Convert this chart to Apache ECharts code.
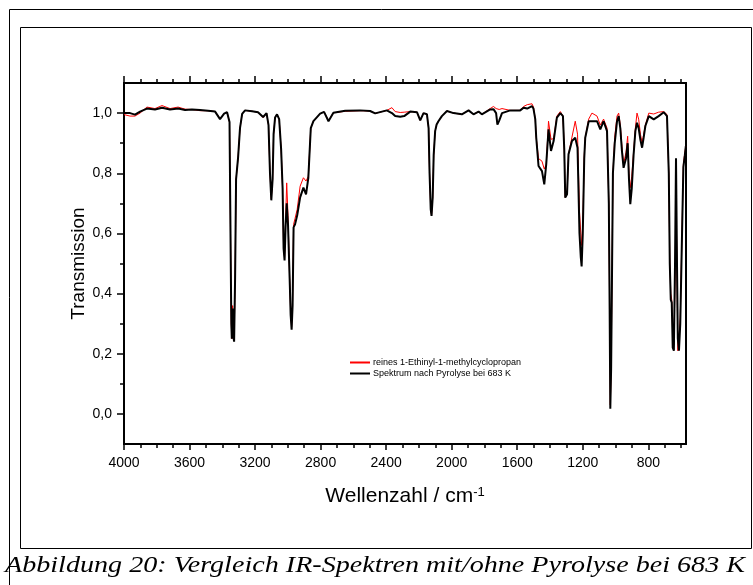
<!DOCTYPE html>
<html>
<head>
<meta charset="utf-8">
<script src="https://cdn.jsdelivr.net/npm/echarts@6/dist/echarts.min.js"></script>
<style>
html,body{margin:0;padding:0;background:#fff;}
#chart{width:753px;height:585px;}
</style>
</head>
<body>
<div id="chart"></div>
<script>
// Wavenumbers (cm^-1)
var wavenumbers = [4000,3963,3933,3902,3860,3811,3768,3719,3670,3627,
3585,3536,3487,3444,3414,3389,3371,3356,3350,3345,
3342,3337,3333,3328,3322,3316,3304,3292,3279,3261,
3218,3182,3151,3130,3118,3109,3101,3093,3087,3078,
3066,3053,3041,3032,3026,3020,3014,3007,2999,2989,
2983,2977,2971,2965,2956,2943,2925,2905,2889,2875,
2860,2844,2803,2779,2752,2722,2650,2559,2498,2467,
2396,2365,2345,2314,2290,2253,2212,2192,2172,2151,
2141,2135,2128,2123,2116,2110,2101,2092,2081,2060,
2029,1989,1938,1897,1867,1836,1816,1765,1745,1729,
1721,1710,1693,1643,1582,1561,1539,1510,1501,1490,
1484,1470,1460,1449,1435,1423,1409,1394,1378,1358,
1337,1321,1313,1307,1296,1287,1266,1246,1232,1220,
1212,1207,1200,1191,1185,1164,1144,1113,1093,1073,
1052,1041,1036,1032,1027,1021,1016,1005,991,981,
971,961,951,936,926,918,910,901,890,879,
869,859,848,838,828,818,797,767,737,706,
686,675,669,663,657,651,644,637,631,625,
620,613,605,596,586,577,571];

// Transmission after pyrolysis at 683 K (black)
var pyrolyseValues = [1.00,1.00,0.995,1.005,1.015,1.012,1.018,1.012,1.015,1.01,
1.012,1.01,1.008,1.005,0.98,0.998,1.003,0.97,0.6,0.3,
0.25,0.35,0.26,0.24,0.45,0.78,0.85,0.95,0.997,1.009,
1.006,1.003,0.987,1.0,0.96,0.8,0.71,0.78,0.93,0.985,
0.996,0.98,0.88,0.75,0.55,0.51,0.62,0.70,0.63,0.45,
0.33,0.28,0.36,0.62,0.63,0.66,0.72,0.752,0.73,0.785,
0.95,0.973,0.998,1.004,0.973,1.001,1.008,1.009,1.007,0.999,
1.009,1.0,0.99,0.988,0.99,1.005,1.003,0.976,1.0,0.996,
0.95,0.8,0.68,0.658,0.72,0.86,0.94,0.962,0.973,0.99,
1.007,1.0,0.996,1.009,0.996,1.005,0.996,1.012,1.013,1.0,
0.962,0.975,1.0,1.009,1.009,1.018,1.015,1.023,1.015,0.98,
0.918,0.824,0.83,0.807,0.763,0.83,0.946,0.874,0.907,0.985,
1.0,0.99,0.88,0.719,0.73,0.863,0.907,0.918,0.885,0.6,
0.52,0.49,0.6,0.85,0.918,0.973,0.973,0.973,0.946,0.973,
0.94,0.7,0.35,0.017,0.15,0.5,0.8,0.9,0.973,0.99,
0.95,0.874,0.818,0.85,0.90,0.78,0.697,0.75,0.86,0.94,
0.968,0.95,0.91,0.885,0.92,0.957,0.99,0.979,0.99,1.003,
0.99,0.8,0.5,0.38,0.37,0.22,0.21,0.5,0.85,0.5,
0.25,0.21,0.3,0.55,0.82,0.86,0.89];

// Transmission of pure 1-ethynyl-1-methylcyclopropane (red)
var reinValues = [0.995,0.99,0.99,1.0,1.02,1.015,1.025,1.015,1.02,1.013,
1.012,1.008,1.008,1.005,0.982,0.998,1.003,0.97,0.6,0.3,
0.25,0.36,0.26,0.245,0.45,0.78,0.85,0.95,0.997,1.009,
1.006,1.003,0.985,1.0,0.96,0.8,0.715,0.78,0.93,0.985,
0.996,0.98,0.88,0.75,0.55,0.52,0.64,0.768,0.66,0.45,
0.34,0.29,0.38,0.63,0.65,0.68,0.757,0.785,0.774,0.79,
0.95,0.973,0.998,1.004,0.975,1.001,1.006,1.008,1.007,0.999,
1.009,1.018,1.005,1.002,1.003,1.005,1.003,0.976,1.0,0.996,
0.95,0.8,0.68,0.66,0.72,0.86,0.94,0.962,0.973,0.99,
1.007,1.0,0.996,1.009,0.996,1.005,0.996,1.015,1.022,1.015,
1.01,1.012,1.015,1.009,1.009,1.022,1.028,1.031,1.02,0.98,
0.918,0.849,0.845,0.84,0.814,0.83,0.973,0.913,0.915,0.99,
1.005,0.99,0.88,0.72,0.73,0.863,0.92,0.973,0.93,0.674,
0.6,0.56,0.63,0.86,0.918,0.98,1.0,0.99,0.96,0.98,
0.95,0.7,0.35,0.03,0.15,0.5,0.8,0.92,0.99,1.0,
0.96,0.89,0.83,0.87,0.923,0.8,0.752,0.79,0.87,0.95,
1.0,0.98,0.93,0.9,0.93,0.96,1.0,0.997,1.003,1.005,
0.995,0.8,0.52,0.4,0.38,0.26,0.23,0.45,0.7,0.5,
0.21,0.25,0.32,0.56,0.83,0.87,0.89];

var seriesNames = ['reines 1-Ethinyl-1-methylcyclopropan', 'Spektrum nach Pyrolyse bei 683 K'];
var xMajorTicks = [4000,3600,3200,2800,2400,2000,1600,1200,800];
var xMinorTicks = [3900,3800,3700,3500,3400,3300,3100,3000,2900,2700,2600,2500,2300,2200,2100,1900,1800,1700,1500,1400,1300,1100,1000,900,700,600];
var yMajorTicks = [0,0.2,0.4,0.6,0.8,1.0];
var yMinorTicks = [0.1,0.3,0.5,0.7,0.9];
var xTitle = 'Wellenzahl / cm';
var xTitleSup = '-1';
var yTitle = 'Transmission';
var caption = 'Abbildung 20: Vergleich IR-Spektren mit/ohne Pyrolyse bei 683 K';

var FONT = '"Liberation Sans", Arial, sans-serif';
var CAPTION_FONT = 'italic 24px "Liberation Serif", "Times New Roman", Times, serif';
var X_MIN = 570, X_MAX = 4000, Y_MIN = -0.1, Y_MAX = 1.1;

// horizontal stretch of the caption so it spans the figure width like the original
var mctx = document.createElement('canvas').getContext('2d');
mctx.font = CAPTION_FONT;
var captionScale = 740 / mctx.measureText(caption).width;

function xAxisDef(pos, ticks, len, labels, extra) {
  var a = {
    type: 'value', position: pos, inverse: true, min: X_MIN, max: X_MAX, gridIndex: 0,
    axisLine: {show: true, onZero: false, lineStyle: {color: '#000', width: 2}},
    axisTick: {show: true, inside: false, length: len, customValues: ticks, lineStyle: {color: '#000', width: 1.5}},
    axisLabel: labels ? {show: true, customValues: ticks, color: '#000', fontSize: 14, fontFamily: FONT, margin: 12,
      formatter: function (v) { return String(v); }} : {show: false},
    splitLine: {show: false}
  };
  if (extra) for (var k in extra) a[k] = extra[k];
  return a;
}
function yAxisDef(pos, ticks, len, labels, extra) {
  var a = {
    type: 'value', position: pos, min: Y_MIN, max: Y_MAX, gridIndex: 0,
    axisLine: {show: true, onZero: false, lineStyle: {color: '#000', width: 2}},
    axisTick: ticks ? {show: true, inside: false, length: len, customValues: ticks, lineStyle: {color: '#000', width: 1.5}} : {show: false},
    axisLabel: labels ? {show: true, customValues: ticks, color: '#000', fontSize: 14, fontFamily: FONT, margin: 12,
      formatter: function (v) { return v.toFixed(1).replace('.', ','); }} : {show: false},
    splitLine: {show: false}
  };
  if (extra) for (var k in extra) a[k] = extra[k];
  return a;
}

var chart = echarts.init(document.getElementById('chart'), null, {renderer: 'canvas'});
chart.setOption({
  backgroundColor: '#fff',
  animation: false,
  grid: {left: 124, top: 83, width: 562, height: 361, containLabel: false},
  legend: {
    orient: 'vertical', left: 349, top: 358, padding: 0, itemWidth: 20, itemHeight: 9, itemGap: 2,
    data: seriesNames,
    itemStyle: {color: 'rgba(0,0,0,0)', borderWidth: 0, opacity: 0},
    textStyle: {color: '#000', fontSize: 9, fontFamily: FONT, padding: [0, 0, 0, -2]},
    selectedMode: false
  },
  xAxis: [
    xAxisDef('bottom', xMajorTicks, 6, true, {
      name: '{t|' + xTitle + '}{s|' + xTitleSup + '}', nameLocation: 'middle', nameGap: 42, nameMoveOverlap: false,
      nameTextStyle: {color: '#000', fontFamily: FONT, rich: {
        t: {fontSize: 21, fontFamily: FONT, color: '#000', verticalAlign: 'bottom'},
        s: {fontSize: 13, fontFamily: FONT, color: '#000', verticalAlign: 'top'}
      }}
    }),
    xAxisDef('bottom', xMinorTicks, 4, false),
    xAxisDef('top', xMajorTicks, 7, false),
    xAxisDef('top', xMinorTicks, 4, false)
  ],
  yAxis: [
    yAxisDef('left', yMajorTicks, 7, true, {
      name: yTitle, nameLocation: 'middle', nameGap: 36, nameMoveOverlap: false,
      nameTextStyle: {color: '#000', fontSize: 19, fontFamily: FONT}
    }),
    yAxisDef('left', yMinorTicks, 4, false),
    yAxisDef('right', null, 0, false)
  ],
  series: [
    {
      name: seriesNames[0], type: 'line', xAxisIndex: 0, yAxisIndex: 0,
      showSymbol: false, symbol: 'none', clip: true,
      lineStyle: {color: '#ff0000', width: 1}, itemStyle: {color: '#ff0000'},
      data: wavenumbers.map(function (w, i) { return [w, reinValues[i]]; })
    },
    {
      name: seriesNames[1], type: 'line', xAxisIndex: 0, yAxisIndex: 0,
      showSymbol: false, symbol: 'none', clip: true,
      lineStyle: {color: '#000', width: 2}, itemStyle: {color: '#000'},
      data: wavenumbers.map(function (w, i) { return [w, pyrolyseValues[i]]; })
    }
  ],
  graphic: [
    {type: 'polyline', shape: {points: [[9.5, 600], [9.5, 9.5], [760, 9.5]]}, style: {stroke: '#000', lineWidth: 1, fill: null}, silent: true},
    {type: 'rect', shape: {x: 20.5, y: 27.5, width: 731, height: 521}, style: {stroke: '#000', lineWidth: 1, fill: null}, silent: true},
    {type: 'text', x: 5, y: 566, scaleX: captionScale, scaleY: 1, silent: true,
      style: {text: caption, font: CAPTION_FONT, fill: '#000', verticalAlign: 'middle', align: 'left'}}
  ]
});
</script>
</body>
</html>
